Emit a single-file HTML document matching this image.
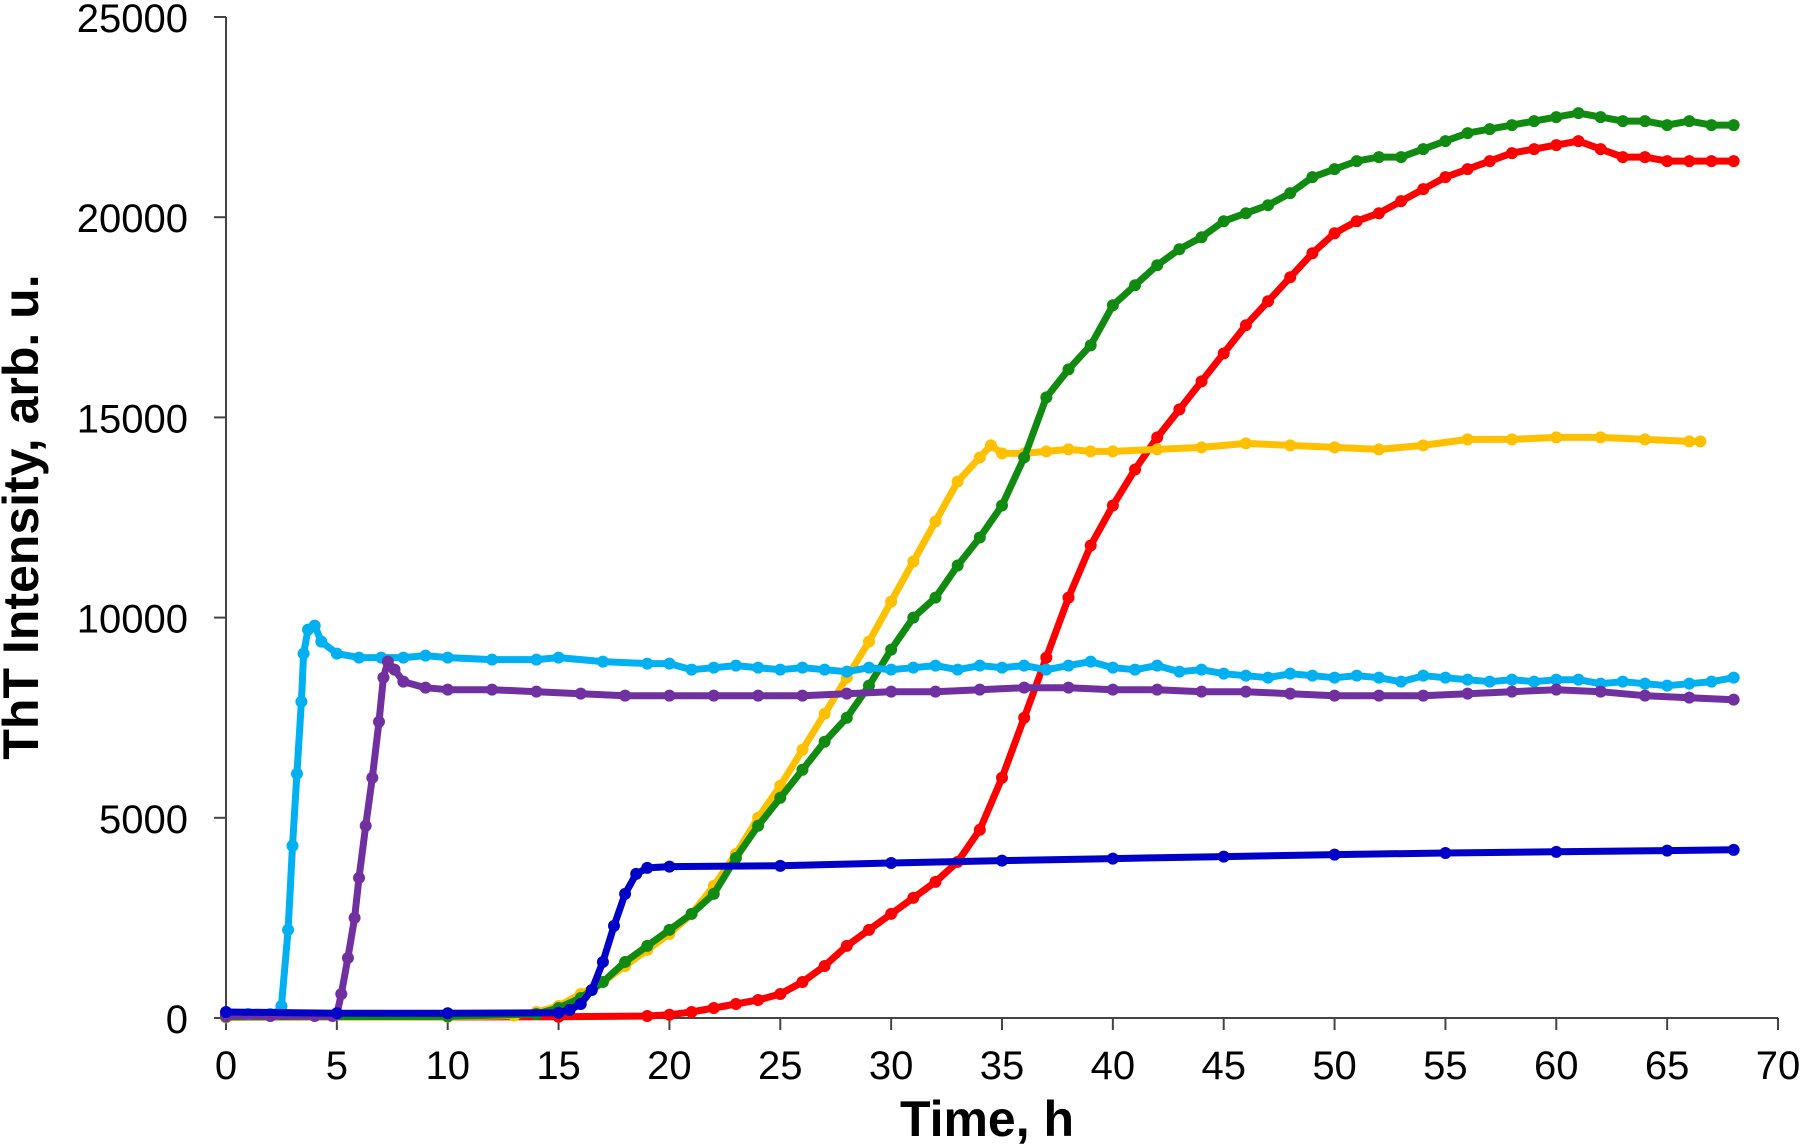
<!DOCTYPE html>
<html><head><meta charset="utf-8"><style>
html,body{margin:0;padding:0;background:#fff;}
svg{display:block;font-family:"Liberation Sans",Arial,sans-serif;}
</style></head><body>
<svg id="chart" width="1800" height="1147" viewBox="0 0 1800 1147">
<g id="axes"></g>
<g id="series"></g>
<text x="987" y="1136" font-size="50" font-weight="bold" text-anchor="middle">Time, h</text>
<text transform="translate(38,517) rotate(-90)" font-size="50" font-weight="bold" text-anchor="middle">ThT Intensity, arb. u.</text>
</svg>
<script>
const xTicks=[0,5,10,15,20,25,30,35,40,45,50,55,60,65,70];
const yTicks=[0,5000,10000,15000,20000,25000];
const lightBlueT=[0,1,2,2.3,2.5,2.8,3.0,3.2,3.4,3.5,3.7,4.0,4.3,5,6,7,8,9,10,12,14,15,17,19,20,21,22,23,24,25,26,27,28,29,30,31,32,33,34,35,36,37,38,39,40,41,42,43,44,45,46,47,48,49,50,51,52,53,54,55,56,57,58,59,60,61,62,63,64,65,66,67,68];
const lightBlueV=[100,100,100,100,300,2200,4300,6100,7900,9100,9700,9800,9400,9100,9000,9000,9000,9050,9000,8950,8950,9000,8900,8850,8850,8700,8750,8800,8750,8700,8750,8700,8650,8750,8700,8750,8800,8700,8800,8750,8800,8700,8800,8900,8750,8700,8800,8650,8700,8600,8550,8500,8600,8550,8500,8550,8500,8400,8550,8500,8450,8400,8450,8400,8450,8450,8350,8400,8350,8300,8350,8400,8500];
const purpleT=[0,2,4,4.8,5.0,5.2,5.5,5.8,6.0,6.3,6.6,6.9,7.1,7.3,7.6,8,9,10,12,14,16,18,20,22,24,26,28,30,32,34,36,38,40,42,44,46,48,50,52,54,56,58,60,62,64,66,68];
const purpleV=[50,50,50,50,100,600,1500,2500,3500,4800,6000,7400,8500,8900,8700,8400,8250,8200,8200,8150,8100,8050,8050,8050,8050,8050,8100,8150,8150,8200,8250,8250,8200,8200,8150,8150,8100,8050,8050,8050,8100,8150,8200,8150,8050,8000,7950];
const blueT=[0,5,10,15,15.5,16,16.5,17,17.5,18,18.5,19,20,25,30,35,40,45,50,55,60,65,68];
const blueV=[150,120,120,130,200,350,700,1400,2300,3100,3600,3750,3780,3800,3870,3930,3980,4030,4080,4120,4150,4180,4200];
const yellowT=[0,10,13,14,15,16,17,18,19,20,21,22,23,24,25,26,27,28,29,30,31,32,33,34,34.5,35,36,37,38,39,40,42,44,46,48,50,52,54,56,58,60,62,64,66,66.5];
const yellowV=[20,30,60,150,300,600,900,1300,1700,2100,2600,3300,4100,5000,5800,6700,7600,8500,9400,10400,11400,12400,13400,14000,14300,14100,14100,14150,14200,14150,14150,14200,14250,14350,14300,14250,14200,14300,14450,14450,14500,14500,14450,14400,14400];
const greenT=[0,10,14,15,16,17,18,19,20,21,22,23,24,25,26,27,28,29,30,31,32,33,34,35,36,37,38,39,40,41,42,43,44,45,46,47,48,49,50,51,52,53,54,55,56,57,58,59,60,61,62,63,64,65,66,67,68];
const greenV=[30,40,100,250,500,900,1400,1800,2200,2600,3100,4000,4800,5500,6200,6900,7500,8300,9200,10000,10500,11300,12000,12800,14000,15500,16200,16800,17800,18300,18800,19200,19500,19900,20100,20300,20600,21000,21200,21400,21500,21500,21700,21900,22100,22200,22300,22400,22500,22600,22500,22400,22400,22300,22400,22300,22300];
const redT=[0,15,19,20,21,22,23,24,25,26,27,28,29,30,31,32,33,34,35,36,37,38,39,40,41,42,43,44,45,46,47,48,49,50,51,52,53,54,55,56,57,58,59,60,61,62,63,64,65,66,67,68];
const redV=[20,30,50,80,150,250,350,450,600,900,1300,1800,2200,2600,3000,3400,3900,4700,6000,7500,9000,10500,11800,12800,13700,14500,15200,15900,16600,17300,17900,18500,19100,19600,19900,20100,20400,20700,21000,21200,21400,21600,21700,21800,21900,21700,21500,21500,21400,21400,21400,21400];

const NS="http://www.w3.org/2000/svg";
const X0=226,X1=1778,Y0=1018,Y1=17;
function sx(t){return X0+(t-0)/(70-0)*(X1-X0);}
function sy(v){return Y0-(v-0)/(25000-0)*(Y0-Y1);}
function mk(tag,attrs,parent){const e=document.createElementNS(NS,tag);for(const k in attrs)e.setAttribute(k,attrs[k]);parent.appendChild(e);return e;}
const axes=document.getElementById('axes');
const xl=mk('line',{x1:X0,y1:Y0,x2:X1,y2:Y0,stroke:'#444','stroke-width':2},axes);


const yl=mk('line',{x1:X0,y1:Y0,x2:X0,y2:Y1,stroke:'#444','stroke-width':2},axes);


xTicks.forEach(t=>{
  const tk=mk('line',{x1:sx(t),y1:Y0,x2:sx(t),y2:Y0+12,stroke:'#444','stroke-width':2},axes);
  
  
  const lb=mk('text',{x:sx(t),y:Y0+61,'font-size':40,'text-anchor':'middle',fill:'#000'},axes);
  lb.textContent=t;
  
  
});
yTicks.forEach(v=>{
  const tk=mk('line',{x1:X0-12,y1:sy(v),x2:X0,y2:sy(v),stroke:'#444','stroke-width':2},axes);
  
  
  const lb=mk('text',{x:188,y:sy(v)+15,'font-size':40,'text-anchor':'end',fill:'#000'},axes);
  lb.textContent=v;
  
  
});
const sg=document.getElementById('series');
function draw(T,V,color,name){
  const g=mk('g',{},sg);
  
  
  const d=T.map((t,i)=>(i?'L':'M')+sx(t).toFixed(1)+' '+sy(V[i]).toFixed(1)).join(' ');
  const p=mk('path',{d:d,fill:'none',stroke:color,'stroke-width':7,'stroke-linejoin':'round'},g);
  
  
  T.forEach((t,i)=>{
    const c=mk('circle',{cx:sx(t),cy:sy(V[i]),r:6,fill:color},g);
    
    
  });
}
draw(redT,redV,'#ff0000','series-red');
draw(yellowT,yellowV,'#ffc000','series-yellow');
draw(greenT,greenV,'#108a10','series-green');
draw(lightBlueT,lightBlueV,'#00b0f0','series-light-blue');
draw(purpleT,purpleV,'#7030a0','series-purple');
draw(blueT,blueV,'#0000c8','series-blue');
</script>
</body></html>
